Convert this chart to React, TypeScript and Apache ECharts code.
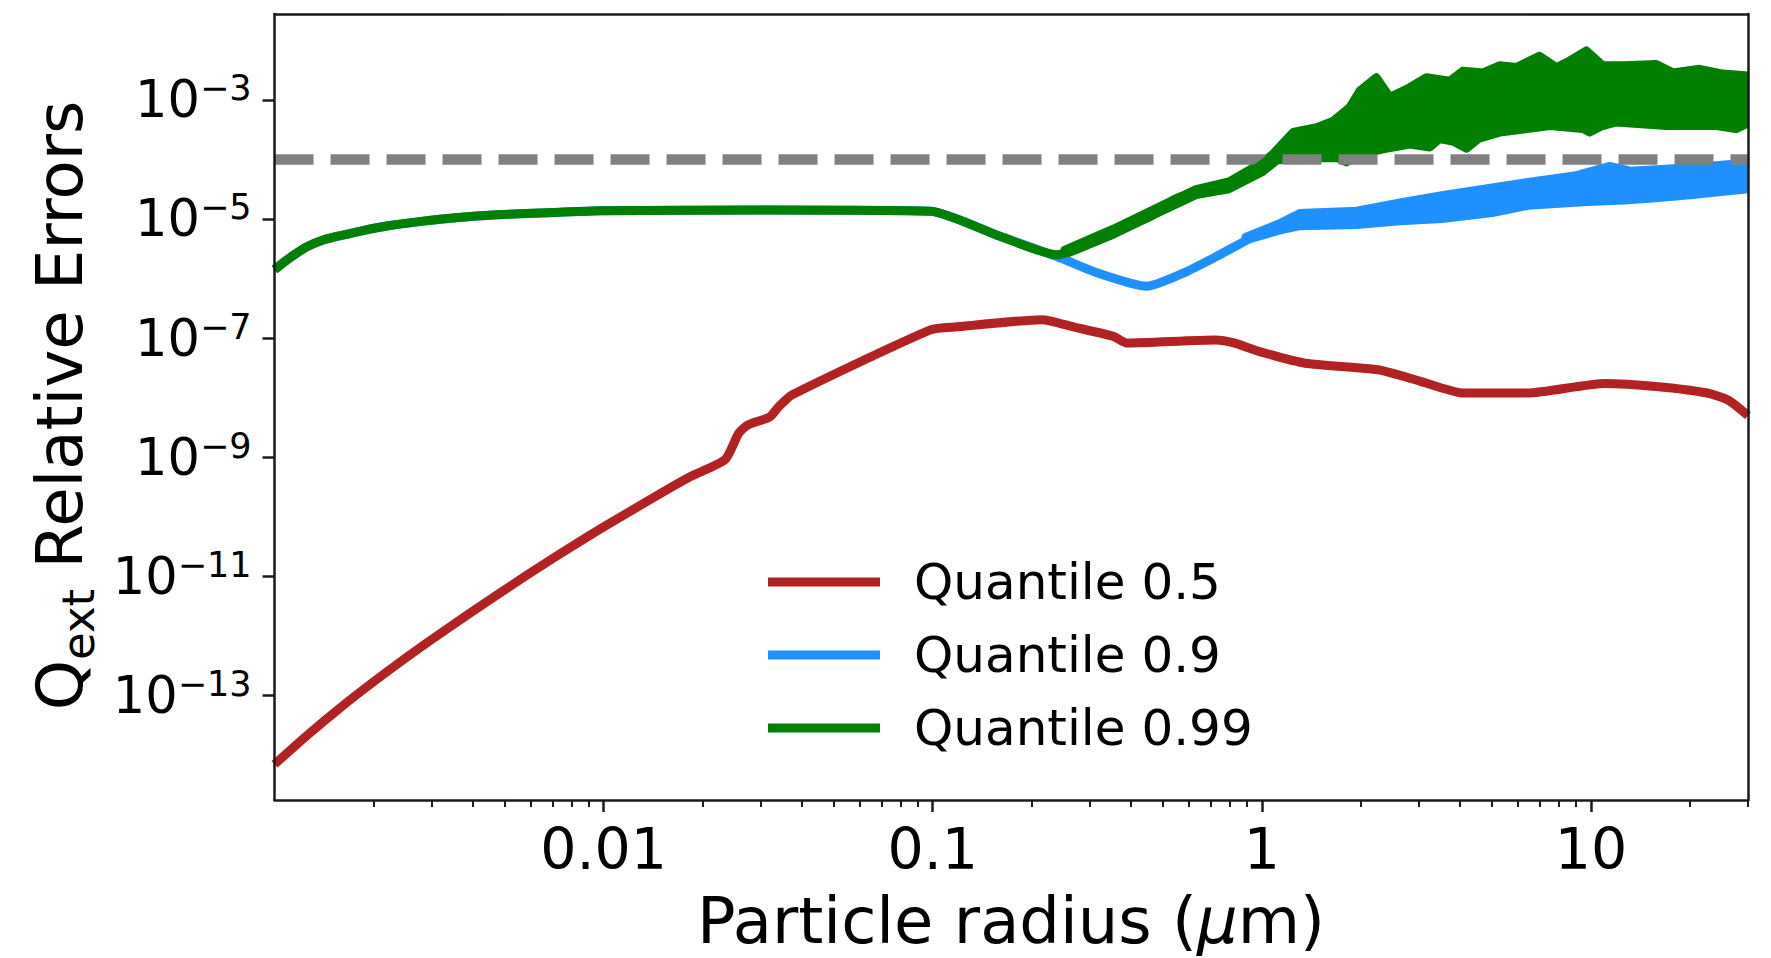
import React, { useEffect, useRef } from 'react';
import * as echarts from 'echarts';

const FONT = 'DejaVu Sans';
const AX = '#1a1a1a';

// Axis ranges (log10 of radius in μm, log10 of relative error)
const X_MIN = -3;
const X_MAX = Math.log10(30);
const Y_MIN = -14.75;
const Y_MAX = -1.56;

const xMajorTicks = [-2, -1, 0, 1];
const xMajorLabels = ['0.01', '0.1', '1', '10'];
const yMajorTicks = [-13, -11, -9, -7, -5, -3];
const thresholdLog = -4;

// Quantile 0.5 (red)
const q50LogR = [-3.0, -2.9, -2.8, -2.7, -2.6, -2.5, -2.322, -2.15, -2.01, -1.85, -1.739, -1.631, -1.59, -1.563, -1.495, -1.468, -1.427, -1.007, -0.926, -0.668, -0.573, -0.451, -0.411, -0.14, -0.085, -0.004, 0.132, 0.353, 0.48, 0.612, 0.807, 1.041, 1.197, 1.353, 1.42, 1.477];
const q50LogErr = [-14.15, -13.66, -13.2, -12.77, -12.36, -11.97, -11.3, -10.68, -10.2, -9.68, -9.33, -9.04, -8.6, -8.46, -8.32, -8.15, -7.95, -6.86, -6.81, -6.69, -6.81, -6.97, -7.08, -7.03, -7.08, -7.23, -7.42, -7.53, -7.72, -7.92, -7.92, -7.76, -7.81, -7.92, -8.05, -8.3];

// Quantile 0.9 (blue) centre line
const q90LogR = [-3.0, -2.97, -2.94, -2.903, -2.85, -2.8, -2.728, -2.65, -2.554, -2.45, -2.322, -2.15, -2.01, -1.5, -1.007, -0.796, -0.623, -0.492, -0.35, -0.239, -0.138, -0.006, 0.115, 0.217, 0.318, 0.419, 0.547, 0.808, 1.067, 1.279, 1.477];
const q90LogErr = [-5.85, -5.72, -5.6, -5.47, -5.35, -5.28, -5.19, -5.11, -5.04, -4.98, -4.93, -4.89, -4.86, -4.85, -4.87, -5.29, -5.63, -5.92, -6.13, -5.91, -5.63, -5.24, -4.99, -4.96, -4.93, -4.82, -4.79, -4.57, -4.4, -4.36, -4.27];
// Quantile 0.9 noise band envelope
const q90BandUpperR = [-0.05, 0.05, 0.115, 0.288, 0.42, 0.547, 0.7, 0.808, 0.95, 1.057, 1.12, 1.279, 1.38, 1.477];
const q90BandUpperErr = [-5.3, -5.08, -4.9, -4.86, -4.72, -4.6, -4.47, -4.38, -4.27, -4.11, -4.19, -4.14, -4.1, -4.05];
const q90BandLowerR = [-0.05, 0.05, 0.115, 0.288, 0.42, 0.547, 0.7, 0.808, 0.976, 1.1, 1.178, 1.3, 1.477];
const q90BandLowerErr = [-5.36, -5.2, -5.12, -5.1, -5.04, -5.0, -4.9, -4.78, -4.72, -4.69, -4.66, -4.6, -4.5];

// Quantile 0.99 (green) centre line
const q99LogR = [-3.0, -2.97, -2.94, -2.903, -2.85, -2.8, -2.728, -2.65, -2.554, -2.45, -2.322, -2.15, -2.01, -1.5, -1.007, -0.796, -0.623, -0.543, -0.441, -0.34, -0.269, -0.188, -0.087, -0.036, 0.034];
const q99LogErr = [-5.85, -5.72, -5.6, -5.47, -5.35, -5.28, -5.19, -5.11, -5.04, -4.98, -4.93, -4.89, -4.86, -4.85, -4.87, -5.29, -5.6, -5.46, -5.18, -4.96, -4.68, -4.54, -4.43, -4.23, -3.95];
// Quantile 0.99 noise band envelope (thin part between the dip and 1 μm)
const q99ThinUpperR = [-0.6, -0.45, -0.3, -0.2, -0.1, 0.0, 0.05];
const q99ThinUpperErr = [-5.52, -5.16, -4.76, -4.5, -4.37, -4.05, -3.85];
const q99ThinLowerR = [-0.6, -0.45, -0.3, -0.2, -0.1, 0.0, 0.05];
const q99ThinLowerErr = [-5.6, -5.26, -4.86, -4.6, -4.5, -4.22, -4.0];
// Quantile 0.99 noise band envelope (wide part)
const q99BandUpperR = [-0.036, 0.034, 0.095, 0.166, 0.217, 0.267, 0.298, 0.348, 0.389, 0.449, 0.5, 0.571, 0.611, 0.672, 0.723, 0.773, 0.844, 0.895, 0.935, 0.986, 1.036, 1.097, 1.199, 1.249, 1.33, 1.401, 1.477];
const q99BandUpperErr = [-4.23, -3.9, -3.54, -3.46, -3.35, -3.12, -2.84, -2.62, -2.95, -2.79, -2.62, -2.68, -2.51, -2.54, -2.42, -2.45, -2.26, -2.45, -2.34, -2.17, -2.42, -2.42, -2.4, -2.54, -2.48, -2.56, -2.59];
const q99BandLowerR = [-0.036, 0.034, 0.15, 0.23, 0.257, 0.29, 0.368, 0.45, 0.51, 0.54, 0.58, 0.622, 0.66, 0.723, 0.875, 0.976, 0.996, 1.03, 1.077, 1.229, 1.381, 1.441, 1.477];
const q99BandLowerErr = [-4.23, -4.02, -3.98, -3.98, -4.05, -3.93, -3.83, -3.75, -3.8, -3.66, -3.7, -3.82, -3.65, -3.55, -3.44, -3.49, -3.55, -3.45, -3.38, -3.44, -3.44, -3.49, -3.4];

const seriesNames = ['Quantile 0.5', 'Quantile 0.9', 'Quantile 0.99'];
const RED = '#b22222';
const BLUE = '#1e90ff';
const GREEN = '#008000';

const zip = (a: number[], b: number[]) => a.map((v, i) => [v, b[i]]);

function minorTicks(): number[] {
  const out: number[] = [];
  for (let d = -3; d <= 1; d++) {
    for (let k = 2; k <= 9; k++) {
      const v = d + Math.log10(k);
      if (v > X_MIN && v <= X_MAX + 1e-9) out.push(v);
    }
  }
  return out;
}

function band(ux: number[], uy: number[], lx: number[], ly: number[], color: string, name: string) {
  return {
    type: 'custom',
    name,
    coordinateSystem: 'cartesian2d',
    xAxisIndex: 0,
    yAxisIndex: 0,
    clip: true,
    silent: true,
    data: [[ux[0], uy[0]]],
    encode: { x: 0, y: 1 },
    renderItem: (params: any, api: any) => {
      if (params.dataIndex !== 0) return null;
      const pts: number[][] = [];
      for (let i = 0; i < ux.length; i++) pts.push(api.coord([ux[i], uy[i]]));
      for (let i = lx.length - 1; i >= 0; i--) pts.push(api.coord([lx[i], ly[i]]));
      return {
        type: 'polygon',
        shape: { points: pts },
        style: { fill: color, stroke: color, lineWidth: 8, lineJoin: 'round' },
      };
    },
  };
}

function lineSeries(name: string, data: number[][], color: string) {
  return {
    type: 'line',
    name,
    data,
    color,
    itemStyle: { color },
    showSymbol: false,
    symbol: 'none',
    clip: true,
    silent: true,
    smooth: 0.2,
    lineStyle: { color, width: 9, join: 'round', cap: 'butt' },
  };
}

export default function App() {
  const ref = useRef<HTMLDivElement>(null);
  useEffect(() => {
    if (!ref.current) return;
    const chart = echarts.init(ref.current, null, { renderer: 'svg' });
    const axisLineStyle = { color: AX, width: 2.5 };
    const option: any = {
      animation: false,
      backgroundColor: '#ffffff',
      grid: { left: 274.5, top: 14, right: 23, bottom: 158, containLabel: false, outerBoundsMode: 'none' },
      legend: {
        data: seriesNames,
        orient: 'vertical',
        left: 763,
        top: 549,
        icon: 'rect',
        itemWidth: 112,
        itemHeight: 9,
        itemGap: 17,
        selectedMode: false,
        textStyle: { fontSize: 50, fontFamily: FONT, color: '#000', lineHeight: 56, padding: [0, 0, 0, 29] },
      },
      xAxis: [
        {
          type: 'value', min: X_MIN, max: X_MAX, position: 'bottom', z: 10,
          axisLine: { show: true, onZero: false, lineStyle: axisLineStyle },
          axisTick: { show: true, customValues: xMajorTicks, length: 12, lineStyle: axisLineStyle },
          axisLabel: {
            show: true, customValues: xMajorTicks,
            formatter: (v: number) => xMajorLabels[xMajorTicks.findIndex((t) => Math.abs(t - v) < 1e-6)] ?? '',
            margin: 20, fontSize: 57, lineHeight: 57, fontFamily: FONT, color: '#000',
          },
          splitLine: { show: false },
        },
        {
          type: 'value', min: X_MIN, max: X_MAX, position: 'bottom', z: 10,
          axisLine: { show: false },
          axisTick: { show: true, customValues: minorTicks(), length: 7, lineStyle: { color: AX, width: 2 } },
          axisLabel: { show: false },
          splitLine: { show: false },
        },
        {
          type: 'value', min: X_MIN, max: X_MAX, position: 'top', z: 10,
          axisLine: { show: true, onZero: false, lineStyle: axisLineStyle },
          axisTick: { show: false },
          axisLabel: { show: false },
          splitLine: { show: false },
        },
      ],
      yAxis: [
        {
          type: 'value', min: Y_MIN, max: Y_MAX, position: 'left', z: 10,
          axisLine: { show: true, onZero: false, lineStyle: axisLineStyle },
          axisTick: { show: true, customValues: yMajorTicks, length: 12, lineStyle: axisLineStyle },
          axisLabel: {
            show: true, customValues: yMajorTicks,
            formatter: (v: number) => `{b|10}{s|\u2212${Math.round(-v)}}`,
            margin: 23,
            rich: {
              b: { fontSize: 51, fontFamily: FONT, color: '#000', lineHeight: 58 },
              s: { fontSize: 35, fontFamily: FONT, color: '#000', lineHeight: 36, verticalAlign: 'top' },
            },
          },
          splitLine: { show: false },
        },
        {
          type: 'value', min: Y_MIN, max: Y_MAX, position: 'right', z: 10,
          axisLine: { show: true, onZero: false, lineStyle: axisLineStyle },
          axisTick: { show: false },
          axisLabel: { show: false },
          splitLine: { show: false },
        },
      ],
      series: [
        {
          type: 'line', name: 'threshold', data: [[X_MIN, thresholdLog], [X_MAX, thresholdLog]],
          showSymbol: false, symbol: 'none', silent: true,
          lineStyle: { color: '#808080', width: 10.5, type: [39, 17], cap: 'butt' },
        },
        lineSeries(seriesNames[0], zip(q50LogR, q50LogErr), RED),
        lineSeries(seriesNames[1], zip(q90LogR, q90LogErr), BLUE),
        band(q90BandUpperR, q90BandUpperErr, q90BandLowerR, q90BandLowerErr, BLUE, 'q90band'),
        lineSeries(seriesNames[2], zip(q99LogR, q99LogErr), GREEN),
        band(q99ThinUpperR, q99ThinUpperErr, q99ThinLowerR, q99ThinLowerErr, GREEN, 'q99thin'),
        band(q99BandUpperR, q99BandUpperErr, q99BandLowerR, q99BandLowerErr, GREEN, 'q99band'),
      ],
      graphic: [
        {
          type: 'text', x: 60, y: 405.5, rotation: Math.PI / 2, silent: true,
          style: {
            text: '{q|Q}{s|ext}{q| Relative Errors}',
            align: 'center', verticalAlign: 'middle', textAlign: 'center', textVerticalAlign: 'middle',
            fill: '#000',
            rich: {
              q: { fontSize: 64, fontFamily: FONT, lineHeight: 82, fill: '#000', color: '#000' },
              s: { fontSize: 45, fontFamily: FONT, lineHeight: 42, verticalAlign: 'bottom', fill: '#000', color: '#000' },
            },
          },
        },
        {
          type: 'text', x: 1011, y: 921, silent: true,
          style: {
            text: '{n|Particle radius (}{i|\u03bc}{n|m)}',
            align: 'center', verticalAlign: 'middle', textAlign: 'center', textVerticalAlign: 'middle',
            fill: '#000',
            rich: {
              n: { fontSize: 64, fontFamily: FONT, fill: '#000', color: '#000' },
              i: { fontSize: 64, fontFamily: FONT, fontStyle: 'italic', fill: '#000', color: '#000' },
            },
          },
        },
      ],
    };
    chart.setOption(option);
    return () => chart.dispose();
  }, []);
  return (
    <div
      ref={ref}
      style={{ position: 'fixed', left: 0, top: 0, width: 1771, height: 958, background: '#fff' }}
    />
  );
}
